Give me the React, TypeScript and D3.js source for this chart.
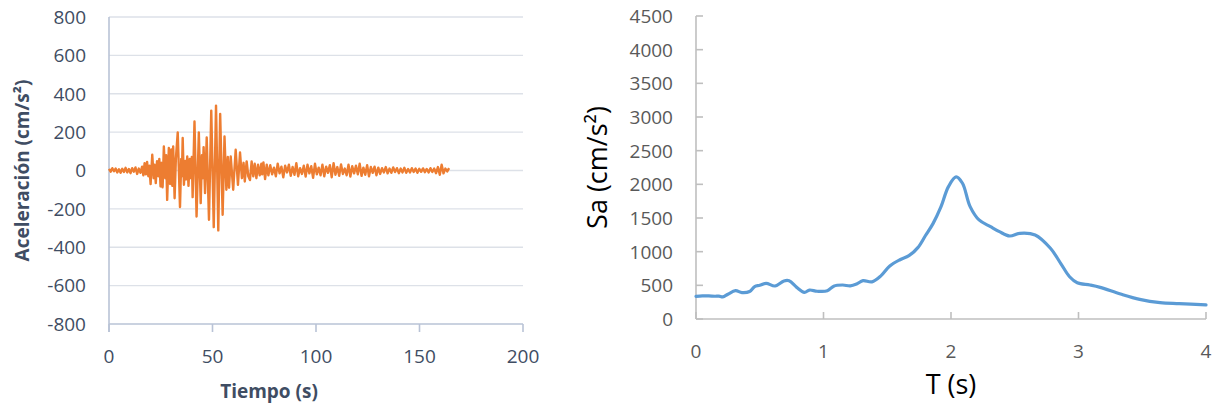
import React from "react";
import * as d3 from "d3";

const WIDTH = 1222;
const HEIGHT = 413;

// ---- Ground acceleration record (cm/s²) ----
// Quiet onset, sampled every 0.8 s from t = 0
const onsetStart = 0;
const onsetStep = 0.8;
const onsetAccel = [8, -6, 12, -4, 10, -10, 6, -12, 9, -8, 14, -10, 8, -14, 12, -6, 16, -18, 10, -12, 20];

// Strong-motion phase: successive peaks and troughs
const strongTimes = [
  16.6, 17.2, 17.8, 18.4, 19.0, 19.5, 20.1, 20.9, 21.6, 22.0, 22.6, 23.2, 23.8, 24.3, 24.9, 25.4,
  25.9, 26.5, 27.2, 27.6, 28.1, 28.9, 29.5, 30.1, 30.6, 31.0, 31.7, 32.3, 33.2, 34.3, 34.9, 35.2,
  35.6, 36.2, 36.8, 37.2, 37.8, 38.4, 39.0, 39.6, 40.0, 40.4, 41.3, 42.3, 43.4, 44.3, 44.9, 45.3,
  45.7, 46.4, 47.2, 48.3, 49.4, 50.6, 51.7, 52.8, 53.7, 54.9, 55.8, 56.7, 57.4, 58.0, 58.8, 60.0,
  61.2, 62.3, 63.3, 64.2, 65.0, 65.6, 66.5, 67.3, 68.1, 68.9, 69.7, 70.4, 71.2, 72.0, 72.8, 73.6,
  74.0, 74.6, 75.4, 76.2,
];
const strongAccel = [
  -25, 38, -20, 45, -30, 25, -71, 82, -40, 30, -66, 48, -30, 60, -83, 40,
  -88, 125, -40, 80, -153, 117, -70, 110, -80, 125, -145, 60, 198, -191, 60, -30,
  169, -74, 50, -47, 73, -80, 60, -40, 70, -139, 255, -240, 198, -170, 80, -40,
  122, -118, 172, -257, 312, -295, 338, -312, 295, -231, 177, -100, 70, -90, 73, -100,
  108, -75, 94, -40, 40, -57, 47, -30, -50, 47, -30, 35, -40, 30, -25, 35,
  -20, 42, -45, 30,
];

// Coda, sampled every 0.9 s from t = 77 s
const codaStart = 77;
const codaStep = 0.9;
const codaAccel = [
  -25, 28, -20, 15, -30, 35, -15, 20, -35, 25, -10, 30, -28, 18, -22, 38, -30, 12, -18,
  25, -32, 30, -15, 22, -38, 35, -20, 15, -25, 30, -30, 20, -12, 28, -35, 38, -22, 18, -28,
  32, -18, 10, -25, 30, -32, 22, -15, 25, -20, 35, -28, 15, -22, 28, -30, 18, -12, 20, -25,
  15, -18, 12, -10, 18, -15, 10, -12, 16, -8, 12, -14, 10, -10, 14, -12, 8, -10, 12, -8,
  10, -12, 9, -7, 11, -9, 8, -10, 12, -8, 10, -14, 18, -22, 30, -15, 10, -5, 12,
];

const accelTicks = [-800, -600, -400, -200, 0, 200, 400, 600, 800];
const timeTicks = [0, 50, 100, 150, 200];

// ---- Response spectrum ----
const periods = [
  0.0, 0.05, 0.1, 0.15, 0.18, 0.21, 0.25, 0.31, 0.36, 0.42, 0.46, 0.5, 0.55, 0.62, 0.69, 0.73,
  0.79, 0.85, 0.89, 0.95, 1.03, 1.08, 1.15, 1.21, 1.26, 1.31, 1.38, 1.45, 1.52, 1.6, 1.67, 1.74,
  1.8, 1.86, 1.92, 1.98, 2.04, 2.09, 2.15, 2.22, 2.31, 2.38, 2.46, 2.54, 2.66, 2.78, 2.86, 2.93,
  2.99, 3.09, 3.17, 3.33, 3.48, 3.64, 3.79, 4.0,
];
const spectralAccel = [
  335, 342, 342, 338, 340, 328, 368, 420, 392, 408, 482, 500, 530, 490, 565, 568,
  470, 395, 430, 412, 418, 488, 505, 492, 520, 570, 552, 640, 787, 880, 940, 1060,
  1240, 1420, 1660, 1966, 2110, 2016, 1669, 1471, 1371, 1297, 1233, 1273, 1248, 1050, 827, 628,
  539, 505, 470, 371, 292, 243, 228, 210,
];

const saTicks = [0, 500, 1000, 1500, 2000, 2500, 3000, 3500, 4000, 4500];
const periodTicks = [0, 1, 2, 3, 4];

type Pt = { x: number; y: number };

const groundMotion: Pt[] = [
  ...onsetAccel.map((a, i) => ({ x: onsetStart + i * onsetStep, y: a })),
  ...strongTimes.map((t, i) => ({ x: t, y: strongAccel[i] })),
  ...codaAccel.map((a, i) => ({ x: codaStart + i * codaStep, y: a })),
];

const spectrum: Pt[] = periods.map((p, i) => ({ x: p, y: spectralAccel[i] }));

const FONT = "'Open Sans', 'DejaVu Sans', sans-serif";

function AccelerogramChart() {
  const x = d3.scaleLinear().domain([0, 200]).range([109, 523]);
  const y = d3.scaleLinear().domain([-800, 800]).range([324, 17]);
  const line = d3
    .line<Pt>()
    .x((d) => x(d.x))
    .y((d) => y(d.y))
    .curve(d3.curveLinear);
  const axisColor = "#B9C3D6";
  const gridColor = "#DDE1E8";
  const textColor = "#3F4D63";
  return (
    <g>
      {accelTicks
        .filter((v) => v > -800)
        .map((v) => (
          <line key={`g${v}`} x1={x(0)} x2={x(200)} y1={y(v)} y2={y(v)} stroke={gridColor} strokeWidth={1.4} />
        ))}
      <line x1={x(0)} x2={x(200)} y1={y(-800)} y2={y(-800)} stroke={axisColor} strokeWidth={1.6} />
      <line x1={x(0)} x2={x(0)} y1={y(800)} y2={y(-800) + 8} stroke={axisColor} strokeWidth={1.6} />
      {timeTicks.map((t) => (
        <line key={`t${t}`} x1={x(t)} x2={x(t)} y1={y(-800)} y2={y(-800) + 8} stroke={axisColor} strokeWidth={1.6} />
      ))}
      <path d={line(groundMotion) ?? ""} fill="none" stroke="#ED7D31" strokeWidth={2.4} strokeLinejoin="round" />
      {accelTicks.map((v) => (
        <text key={`yl${v}`} x={86} y={y(v)} dy="0.36em" textAnchor="end" fontSize={19} fill={textColor} fontFamily={FONT}>
          {v}
        </text>
      ))}
      {timeTicks.map((t) => (
        <text key={`xl${t}`} x={x(t)} y={363} textAnchor="middle" fontSize={19} fill={textColor} fontFamily={FONT}>
          {t}
        </text>
      ))}
      <text x={x(100) - 47} y={398} textAnchor="middle" fontSize={19} fontWeight="bold" fill={textColor} fontFamily={FONT}>
        Tiempo (s)
      </text>
      <text
        transform={`translate(29, ${(y(800) + y(-800)) / 2}) rotate(-90)`}
        textAnchor="middle"
        fontSize={19}
        fontWeight="bold"
        fill={textColor}
        fontFamily={FONT}
      >
        Aceleración (cm/s²)
      </text>
    </g>
  );
}

function SpectrumChart() {
  const x = d3.scaleLinear().domain([0, 4]).range([696, 1206]);
  const y = d3.scaleLinear().domain([0, 4500]).range([319, 16]);
  const line = d3
    .line<Pt>()
    .x((d) => x(d.x))
    .y((d) => y(d.y))
    .curve(d3.curveCatmullRom.alpha(0.5));
  const axisColor = "#BFBFBF";
  const textColor = "#595959";
  return (
    <g>
      <line x1={x(0)} x2={x(4)} y1={y(0)} y2={y(0)} stroke={axisColor} strokeWidth={1.6} />
      <line x1={x(0)} x2={x(0)} y1={y(4500)} y2={y(0)} stroke={axisColor} strokeWidth={1.6} />
      {saTicks.map((v) => (
        <line key={`yt${v}`} x1={x(0)} x2={x(0) + 7} y1={y(v)} y2={y(v)} stroke={axisColor} strokeWidth={1.6} />
      ))}
      {periodTicks.map((p) => (
        <line key={`xt${p}`} x1={x(p)} x2={x(p)} y1={y(0)} y2={y(0) - 7} stroke={axisColor} strokeWidth={1.6} />
      ))}
      <path d={line(spectrum) ?? ""} fill="none" stroke="#5B9BD5" strokeWidth={3.2} strokeLinejoin="round" strokeLinecap="round" />
      {saTicks.map((v) => (
        <text key={`yl${v}`} x={673} y={y(v)} dy="0.36em" textAnchor="end" fontSize={19} fill={textColor} fontFamily={FONT}>
          {v}
        </text>
      ))}
      {periodTicks.map((p) => (
        <text key={`xl${p}`} x={x(p)} y={358} textAnchor="middle" fontSize={19} fill={textColor} fontFamily={FONT}>
          {p}
        </text>
      ))}
      <text x={x(2)} y={394} textAnchor="middle" fontSize={27} fill="#000000" fontFamily={FONT}>
        T (s)
      </text>
      <text
        transform={`translate(607, ${(y(4500) + y(0)) / 2}) rotate(-90)`}
        textAnchor="middle"
        fontSize={27}
        fill="#000000"
        fontFamily={FONT}
      >
        Sa (cm/s²)
      </text>
    </g>
  );
}

export default function App() {
  return (
    <svg
      width={WIDTH}
      height={HEIGHT}
      viewBox={`0 0 ${WIDTH} ${HEIGHT}`}
      style={{ position: "absolute", left: 0, top: 0, background: "#FFFFFF" }}
    >
      <rect width={WIDTH} height={HEIGHT} fill="#FFFFFF" />
      <AccelerogramChart />
      <SpectrumChart />
    </svg>
  );
}
